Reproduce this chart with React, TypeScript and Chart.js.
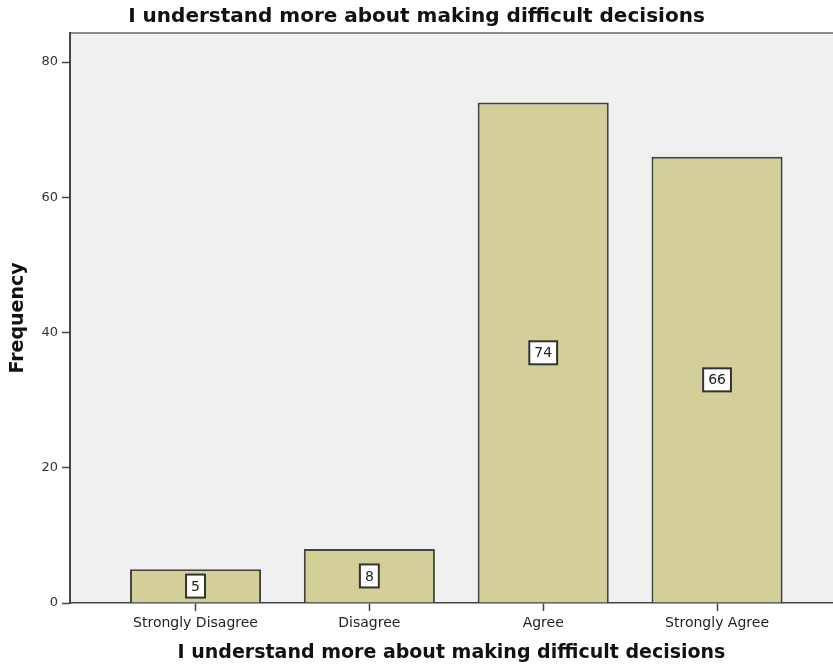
import React, { useEffect, useRef } from "react";
import { Chart, registerables } from "chart.js";

Chart.register(...registerables);

const titleText = "I understand more about making difficult decisions";
const categories = ["Strongly Disagree", "Disagree", "Agree", "Strongly Agree"];
const frequencies = [5, 8, 74, 66];
const yTickValues = [0, 20, 40, 60, 80];
const yAxisTitle = "Frequency";

const FONT = "'DejaVu Sans', Verdana, sans-serif";

const plotDecor = {
  id: "plotDecor",
  beforeDraw(chart: any) {
    const { ctx, chartArea } = chart;
    ctx.save();
    ctx.fillStyle = "#f0f0f0";
    ctx.fillRect(chartArea.left, chartArea.top, chartArea.right - chartArea.left, chartArea.bottom - chartArea.top);
    ctx.strokeStyle = "#8a8a8a";
    ctx.lineWidth = 2;
    ctx.beginPath();
    ctx.moveTo(chartArea.left, chartArea.top);
    ctx.lineTo(chartArea.right, chartArea.top);
    ctx.stroke();
    ctx.restore();
  },
  afterDatasetsDraw(chart: any) {
    const { ctx } = chart;
    const meta = chart.getDatasetMeta(0);
    const yScale = chart.scales.y;
    ctx.save();
    ctx.font = `14px ${FONT}`;
    ctx.textAlign = "center";
    ctx.textBaseline = "middle";
    meta.data.forEach((bar: any, i: number) => {
      const v = frequencies[i];
      const txt = String(v);
      const cx = bar.x;
      const cy = yScale.getPixelForValue(v / 2);
      const w = ctx.measureText(txt).width + 10;
      const h = 23;
      ctx.fillStyle = "#ffffff";
      ctx.fillRect(cx - w / 2, cy - h / 2, w, h);
      ctx.strokeStyle = "#333333";
      ctx.lineWidth = 2;
      ctx.strokeRect(cx - w / 2, cy - h / 2, w, h);
      ctx.fillStyle = "#222222";
      ctx.fillText(txt, cx, cy + 1);
    });
    ctx.restore();
  },
};

export default function App() {
  const ref = useRef<HTMLCanvasElement | null>(null);

  useEffect(() => {
    if (!ref.current) return;
    const chart = new Chart(ref.current, {
      type: "bar",
      data: {
        datasets: [
          {
            label: yAxisTitle,
            data: frequencies.map((v, i) => ({ x: i, y: v })),
            backgroundColor: "#d3cf98",
            borderColor: "#444440",
            borderWidth: 2,
            categoryPercentage: 1,
            barPercentage: 0.754,
          },
        ],
      },
      options: {
        responsive: false,
        animation: false,
        layout: { padding: { left: 0, right: 0, top: 0, bottom: 0 } },
        plugins: {
          legend: { display: false },
          tooltip: { enabled: false },
          title: {
            display: true,
            text: titleText,
            color: "#111111",
            font: { family: FONT, size: 20, weight: "bold" },
            padding: { top: 5, bottom: 4 },
          },
        },
        scales: {
          x: {
            type: "linear",
            offset: false,
            min: -0.722,
            max: 3.667,
            afterFit(scale: any) {
              scale.height = 65;
            },
            afterBuildTicks(scale: any) {
              scale.ticks = categories.map((_, i) => ({ value: i }));
            },
            ticks: {
              callback: (v: any) => categories[v as number] ?? "",
              color: "#222222",
              font: { family: FONT, size: 14 },
              padding: 4,
              maxRotation: 0,
              autoSkip: false,
            },
            grid: {
              offset: false,
              drawOnChartArea: false,
              drawTicks: true,
              tickLength: 8,
              tickColor: "#444444",
              tickWidth: 1.5,
            },
            border: { color: "#444444", width: 1.5 },
            title: {
              display: true,
              text: titleText,
              color: "#111111",
              font: { family: FONT, size: 19, weight: "bold" },
              padding: { top: 0, bottom: 3.6 },
            },
          },
          y: {
            min: 0,
            max: 84.29,
            afterFit(scale: any) {
              scale.width = 70;
            },
            afterBuildTicks(scale: any) {
              scale.ticks = yTickValues.map((v) => ({ value: v }));
            },
            ticks: {
              color: "#333333",
              font: { family: FONT, size: 13 },
              padding: 4,
            },
            grid: {
              drawOnChartArea: false,
              drawTicks: true,
              tickLength: 8,
              tickColor: "#444444",
              tickWidth: 1.5,
            },
            border: { color: "#444444", width: 2 },
            title: {
              display: true,
              text: yAxisTitle,
              color: "#111111",
              font: { family: FONT, size: 19, weight: "bold" },
              padding: { top: 6.6, bottom: 0 },
            },
          },
        },
      } as any,
      plugins: [plotDecor],
    });
    return () => chart.destroy();
  }, []);

  return (
    <canvas
      ref={ref}
      width={833}
      height={668}
      style={{ position: "absolute", left: 0, top: 0, width: 833, height: 668, display: "block" }}
    />
  );
}
